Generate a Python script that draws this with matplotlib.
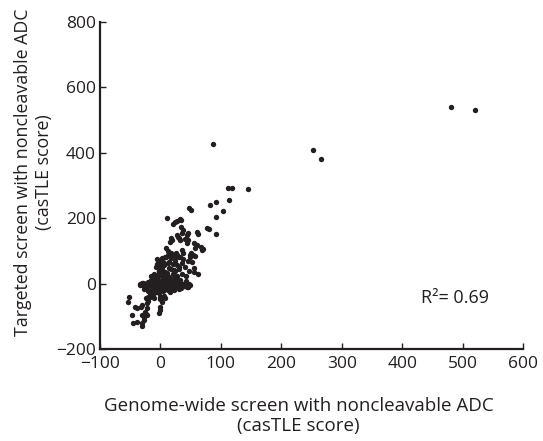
import matplotlib
matplotlib.use("Agg")
import matplotlib.pyplot as plt

plt.rcParams['font.family'] = ['Open Sans', 'DejaVu Sans']

# casTLE scores
genome_wide = [
    481, 520, 252, 266, 87, 145, 112, 118, 114, 103, 92, 82, 92, 92, 77, 80, 48, 51, 11, 32,
    24, 27, 21, 34, 34, 38, 35, 46, 44, 60, 62, 17, 16, 19, 27, 29, 31, 33, 40, 44,
    46, 56, 60, 58, 67, 70, 10, 13, 25, 28, 23, 30, 36, 38, 50, 49, 54, 58, 8, 56,
    52, 49, 69,
    -5, 2, 10, 18, 25, 32, 38, 45, 36, 28, 20, 12, 5, 0, -8, 3, 15, 22, 30, 40,
    48, 55, 62, 8, -3, -10, 20, 35, 42, 5, -6, 12, 18,
    -20, -15, -10, -5, 0, 5, 10, 15, 20, 25, 30, 35, -18, -12, -6, 0, 6, 12, 18, 24,
    -8, -2, 4, 10, 16, 22, 28, -14, -8, -2, 4, 10, 16, 22, -4, 2, 8, 14, -16, 0,
    -4, 8,
    -34, -31, -28, -25, -22, -19, -16, -13, -10, -7, 38, 41, 44, 47, 49, 36, 40, 44, 46, 30,
    34, -30, -26, -24, -33, -29, -27, -22, -20, -18,
    0, -1, 1, -2, 0, 1, -1, 0, 2,
    -52, -54, -42, -39, -47, -45, -38, -31, -30, -28, -31, -27, -23, -25, -23, -30, -23, -20, -24, -20,
    -1, -1, -2, 2, 8, 6, -32, -25, -24, -17, -12, -10, -15,
    -12, -6, 3, 9, 13, 19, 26, 32, -9, -3, 7, 14, 21, 27, 33, -1, 11, 17, 24, 31,
    -11, 1, 7, 13, 28, 39, 43, 6, 15, 24,
]
targeted = [
    541, 532, 410, 382, 427, 288, 292, 292, 256, 222, 251, 240, 203, 151, 169, 166, 230, 226, 200, 197,
    189, 192, 181, 194, 172, 164, 156, 156, 149, 159, 151, 139, 128, 134, 149, 144, 138, 133, 136, 123,
    133, 123, 118, 110, 113, 105, 108, 100, 93, 88, 84, 80, 103, 93, 93, 87, 88, 83, 82, 47,
    67, 82, 103,
    75, 78, 80, 78, 82, 80, 75, 68, 62, 58, 60, 62, 65, 55, 52, 45, 48, 42, 45, 50,
    40, 35, 30, 35, 38, 30, 30, 28, 22, 25, 60, 88, 95,
    5, 10, 15, 20, 25, 18, 12, 8, 15, 10, 5, 0, -5, -8, -12, -15, -10, -5, -12, -8,
    5, 8, 3, -2, 2, -3, -10, -18, -25, -30, -22, -18, -25, -20, 12, 22, 26, 20, 22, 0,
    -4, 6,
    0, 1, -1, 0, 2, -1, 0, 1, -2, 0, -1, 0, -2, -1, -3, -5, -8, -10, -9, -18,
    -14, -5, -8, -12, -4, 3, -15, -10, -22, -28,
    70, 60, 50, 40, 35, 30, -40, -48, -55,
    -40, -55, -71, -74, -96, -121, -117, -121, -129, -111, -96, -101, -96, -86, -75, -65, -60, -53, -45, -40,
    -71, -81, -91, -40, -43, -37, -71, -89, -93, -40, -35, -45, -30,
    2, 14, 10, 4, -6, 6, 16, -3, -16, 30, 18, -8, 0, 24, 12, 40, 33, 44, 38, 52,
    -1, -6, -14, -20, 3, -6, 9, 58, 66, 70,
]

x_ticks = [-100, 0, 100, 200, 300, 400, 500, 600]
y_ticks = [-200, 0, 200, 400, 600, 800]
r_squared = "R\u00b2= 0.69"

fig = plt.figure(figsize=(5.43, 4.41), dpi=100)
ax = fig.add_axes([100 / 543, 1 - 349 / 441, 423 / 543, 327 / 441])

ax.scatter(genome_wide, targeted, s=15, color='#231f20', linewidths=0)

ax.set_xlim(-100, 600)
ax.set_ylim(-200, 800)
ax.set_xticks(x_ticks)
ax.set_yticks(y_ticks)
ax.tick_params(direction='in', length=4, width=1, labelsize=12.5, colors='#231f20')
ax.tick_params(axis='x', pad=5)
ax.tick_params(axis='y', pad=3)

for side in ['top', 'right']:
    ax.spines[side].set_visible(False)
for side in ['left', 'bottom']:
    ax.spines[side].set_linewidth(1.6)
    ax.spines[side].set_color('#231f20')

ax.set_xlabel("Genome-wide screen with noncleavable ADC\n(casTLE score)", fontsize=13.5,
              color='#231f20', linespacing=1.15)
ax.xaxis.set_label_coords(0.47, -0.148)
ax.set_ylabel("Targeted screen with noncleavable ADC\n(casTLE score)", fontsize=12.8,
              color='#231f20', linespacing=1.2)
ax.yaxis.set_label_coords(-0.112, 0.54)

ax.text(432, -45, r_squared, fontsize=13, color='#231f20', va='center', ha='left')

fig.savefig("out.png", dpi=100)
